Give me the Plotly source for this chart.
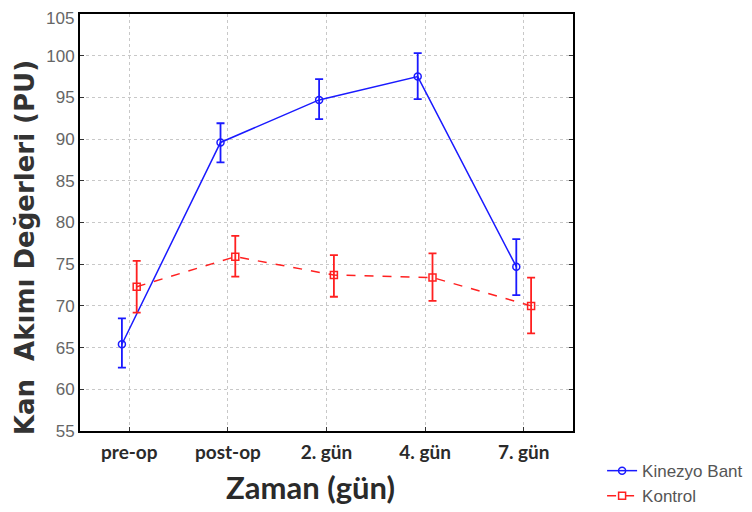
import plotly.graph_objects as go

categories = ["pre-op", "post-op", "2. gün", "4. gün", "7. gün"]

kinezyo_mean = [65.4, 89.6, 94.7, 97.5, 74.7]
kinezyo_upper = [68.5, 91.9, 97.2, 100.3, 78.0]
kinezyo_lower = [62.6, 87.2, 92.4, 94.8, 71.3]

kontrol_mean = [72.3, 75.9, 73.7, 73.4, 70.0]
kontrol_upper = [75.4, 78.4, 76.1, 76.3, 73.4]
kontrol_lower = [69.2, 73.5, 71.1, 70.6, 66.7]

y_ticks = list(range(55, 106, 5))
y_ticklabels = [str(v) for v in y_ticks]

offset = 0.075
idx = list(range(len(categories)))

fig = go.Figure()

fig.add_trace(go.Scatter(
    x=[i - offset for i in idx], y=kinezyo_mean, name="Kinezyo Bant",
    mode="lines+markers",
    line=dict(color="#1a1aff", width=1.5),
    marker=dict(symbol="circle-open", size=7, color="#1a1aff", line=dict(width=1.5)),
    error_y=dict(type="data", symmetric=False,
                 array=[u - m for u, m in zip(kinezyo_upper, kinezyo_mean)],
                 arrayminus=[m - l for m, l in zip(kinezyo_mean, kinezyo_lower)],
                 color="#1a1aff", thickness=1.8, width=4),
))

fig.add_trace(go.Scatter(
    x=[i + offset for i in idx], y=kontrol_mean, name="Kontrol",
    mode="lines+markers",
    line=dict(color="#ff2020", width=1.5, dash="dash"),
    marker=dict(symbol="square-open", size=7, color="#ff2020", line=dict(width=1.5)),
    error_y=dict(type="data", symmetric=False,
                 array=[u - m for u, m in zip(kontrol_upper, kontrol_mean)],
                 arrayminus=[m - l for m, l in zip(kontrol_mean, kontrol_lower)],
                 color="#ff2020", thickness=1.8, width=4),
))

tick_font = dict(family="Arial, Liberation Sans", size=17, color="#666")

fig.update_layout(
    width=752, height=512,
    margin=dict(l=72, r=187, t=6, b=84),
    paper_bgcolor="white", plot_bgcolor="white",
    showlegend=True,
    legend=dict(x=1.059, y=-0.053, xanchor="left", yanchor="top",
                font=dict(family="Arial, Liberation Sans", size=17, color="#555"),
                bgcolor="rgba(0,0,0,0)", tracegroupgap=0, itemwidth=30),
    xaxis=dict(
        range=[-0.5, 4.5], automargin=False,
        tickmode="array", tickvals=idx,
        ticktext=["<b>%s</b>" % c for c in categories],
        tickfont=dict(family="Lato", size=19, color="#2a2a2a"),
        ticks="inside", ticklen=4, tickcolor="#333", ticklabelstandoff=3,
        showline=True, linecolor="black", linewidth=2, mirror=True,
        showgrid=True, gridcolor="#c8c8c8", griddash="dot", gridwidth=1,
        zeroline=False,
    ),
    yaxis=dict(
        range=[55, 105], automargin=False,
        tickmode="array", tickvals=y_ticks,
        ticktext=y_ticklabels[:-1] + [""],
        tickfont=tick_font,
        ticks="inside", ticklen=4, tickcolor="#333",
        showline=True, linecolor="black", linewidth=2, mirror="ticks",
        showgrid=True, gridcolor="#c8c8c8", griddash="dot", gridwidth=1,
        zeroline=False,
    ),
)

# top tick label, kept inside the page edge
fig.add_annotation(
    text=y_ticklabels[-1], xref="paper", yref="paper",
    x=0, y=1 + 6 / 422, xanchor="right", yanchor="top", xshift=-5,
    borderpad=0, showarrow=False, font=tick_font,
)

fig.add_annotation(
    text="<b>Kan  Akımı Değerleri (PU)</b>", xref="paper", yref="paper",
    x=(25 - 80) / 493, y=(436 - 251) / 422, xanchor="center", yanchor="middle",
    textangle=-90, showarrow=False,
    font=dict(family="DejaVu Sans", size=26, color="#333"),
)

fig.add_annotation(
    text="<b>Zaman (gün)</b>", xref="paper", yref="paper",
    x=(310 - 80) / 493, y=(436 - 493) / 422, xanchor="center", yanchor="middle",
    showarrow=False, font=dict(family="Lato", size=31, color="#2a2a2a"),
)

fig.write_html("out.html")
